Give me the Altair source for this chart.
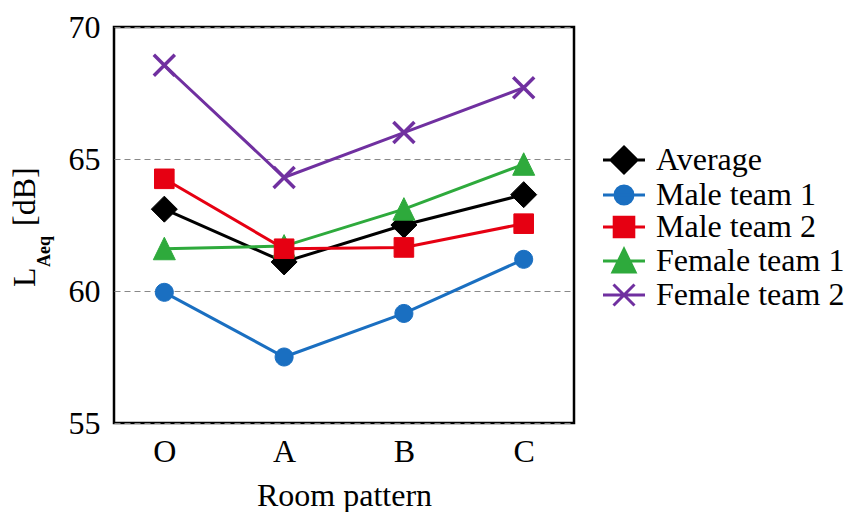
import altair as alt
import pandas as pd

rooms = ["O", "A", "B", "C"]
series = ["Average", "Male team 1", "Male team 2", "Female team 1", "Female team 2"]
average = [63.1, 61.1, 62.5, 63.65]
male1 = [59.95, 57.5, 59.15, 61.2]
male2 = [64.25, 61.6, 61.65, 62.55]
female1 = [61.6, 61.7, 63.1, 64.8]
female2 = [68.55, 64.3, 66.0, 67.7]
colors = ["#000000", "#1a6fc1", "#e60012", "#2eaa3c", "#7030a0"]
draw_order = ["Average", "Male team 1", "Female team 1", "Male team 2", "Female team 2"]

values = [average, male1, male2, female1, female2]
rows = []
for s, vals in zip(series, values):
    for r, v in zip(rooms, vals):
        rows.append({"room": r, "series": s, "val": v})
df = pd.DataFrame(rows)

FONT = "Liberation Serif"
FS = 32

marker_paths = [
    "M0,-1.3L1.3,0L0,1.3L-1.3,0Z",
    "M0.9,0A0.9,0.9,0,1,1,-0.9,0A0.9,0.9,0,1,1,0.9,0Z",
    "M-0.98,-0.98H0.98V0.98H-0.98Z",
    "M0,-1.15L1.1,1.1L-1.1,1.1Z",
    "M-1.05,-1.05L1.05,1.05M-1.05,1.05L1.05,-1.05",
]
legend_paths = ["M-2.1,0H2.1" + p for p in marker_paths]

color_scale = alt.Scale(domain=series, range=colors)

x_enc = alt.X(
    "room:N", sort=rooms, scale=alt.Scale(type="point", padding=0.42),
    axis=alt.Axis(title="Room pattern", labelAngle=0, tickSize=0, domain=False,
                  grid=False, labelPadding=13, titlePadding=13),
)
y_enc = alt.Y(
    "val:Q", scale=alt.Scale(domain=[55, 70], nice=False, zero=False),
    axis=alt.Axis(title=None, values=[55, 60, 65, 70], tickSize=0, domain=False,
                  labelPadding=14, grid=True, gridDash=[6, 4], gridColor="#888888",
                  gridWidth=1),
)

base = alt.Chart(df).encode(x=x_enc, y=y_enc)

series_layers = []
for s in draw_order:
    i = series.index(s)
    c, p = colors[i], marker_paths[i]
    sub = base.transform_filter(alt.datum.series == s)
    series_layers.append(sub.mark_line(strokeWidth=3, color=c))
    series_layers.append(
        sub.mark_point(shape=p, filled=True, size=400, color=c, stroke=c,
                       strokeWidth=3.5 if s == "Female team 2" else 1, opacity=1)
    )

legend = alt.Legend(
    title=None, orient="none", legendX=494, legendY=117, symbolSize=400,
    labelFont=FONT, labelFontSize=FS, labelColor="black", labelOffset=16,
    rowPadding=0, symbolStrokeWidth=3, symbolOpacity=1, labelLimit=400,
)

legend_layer = base.mark_point(
    filled=True, size=400, strokeWidth=3, opacity=0
).encode(
    color=alt.Color("series:N", scale=color_scale, legend=legend),
    shape=alt.Shape("series:N", scale=alt.Scale(domain=series, range=legend_paths), legend=legend),
    stroke=alt.Stroke("series:N", scale=color_scale, legend=legend),
)

one = pd.DataFrame({"a": [0]})
t_L = alt.Chart(one).mark_text(text="L", font=FONT, fontSize=FS, angle=270,
                               align="left", baseline="alphabetic", color="black").encode(
    x=alt.value(-79), y=alt.value(260))
t_sub = alt.Chart(one).mark_text(text="Aeq", font=FONT, fontSize=18, fontWeight="bold",
                                 angle=270, align="left", baseline="alphabetic",
                                 color="black").encode(
    x=alt.value(-64), y=alt.value(240))
t_db = alt.Chart(one).mark_text(text="[dB]", font=FONT, fontSize=FS, angle=270,
                                align="left", baseline="alphabetic", color="black").encode(
    x=alt.value(-79), y=alt.value(199))

chart = alt.layer(*series_layers, legend_layer, t_L, t_sub, t_db).properties(
    width=460, height=396,
    autosize=alt.AutoSizeParams(type="none"),
    padding={"left": 106, "top": 19, "right": 275, "bottom": 89},
).configure(font=FONT).configure_view(stroke="black", strokeWidth=2.5).configure_axis(
    labelFont=FONT, titleFont=FONT, labelFontSize=FS, titleFontSize=FS,
    labelColor="black", titleColor="black", titleFontWeight="normal",
).configure_legend(labelFont=FONT)

chart.save("out.html", embed_options={"renderer": "svg", "actions": False})
